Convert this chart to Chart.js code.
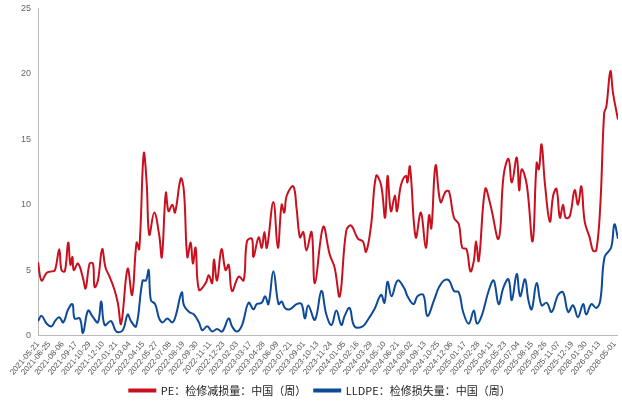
<!DOCTYPE html>
<html><head><meta charset="utf-8">
<script src="https://cdn.jsdelivr.net/npm/chart.js@4/dist/chart.umd.min.js"></script>
<style>html,body{margin:0;background:#fff}#wrap{width:622px;height:408px}</style>
</head><body><div id="wrap"><canvas id="c"></canvas></div>
<script>
const startDate = '2021-05-21';
const tickDates = ['2021-05-21','2021-06-25','2021-08-06','2021-09-17','2021-10-29','2021-12-10','2022-01-21','2022-03-04','2022-04-15','2022-05-27','2022-07-08','2022-08-19','2022-09-30','2022-11-11','2022-12-23','2023-02-03','2023-03-17','2023-04-28','2023-06-09','2023-07-21','2023-09-01','2023-10-13','2023-11-24','2024-01-05','2024-02-16','2024-03-29','2024-05-10','2024-06-21','2024-08-02','2024-09-13','2024-10-25','2024-12-06','2025-01-17','2025-02-28','2025-04-11','2025-05-23','2025-07-04','2025-08-15','2025-09-26','2025-11-07','2025-12-19','2026-01-30','2026-03-13','2026-05-01'];

// weeks since start, values
const peWeeks = [0,1.6,3.9,6.1,7.6,9.5,10.5,12,13.5,14.5,15.4,16,17.9,20.1,21.3,23.1,24.6,25.3,26.8,28.7,30.2,32,34.2,35.7,37.2,40.1,42.1,44.1,45.3,47.3,48.6,49.8,52,54.2,55.4,57.2,58.4,60.1,61.3,63.9,65.3,66.8,68.3,69.3,70.5,72,75,76.4,77.9,78.7,80.1,82.1,83.9,85.3,86.8,89.8,92,93.5,95.7,96.4,98.7,100.1,101.3,102.4,105.3,107.3,109,110.2,111.3,114.2,115.7,117.2,118.7,120.1,122.4,
  123.9,127.6,130.5,132.7,135,137.9,140.1,143.1,145.3,146.8,149,151.3,153.5,155.3,156.4,157.9,159.7,160.6,162.4,164.6,165.3,166.4,169,171.3,173.5,175,176,177.9,180.1,182.4,183.9,186.1,188.3,189.8,191.7,193.5,195,196,197.2,200.1,202.4,206.1,208.3,210.5,212,214.2,215.3,216.4,218.7,221.3,223.1,224.1,225.3,226.8,229,230.5,232,233.5,234.9,236.1,237.9,240.1,241.6,243.1,244.6,246.8,248.3,249.8,251.6,253.3,254.3,256.1,257.3,259.5];
const peValues = [5.6,4.2,4.8,4.9,5.0,6.6,5.0,4.9,7.1,5.4,6.0,5.0,5.5,4.4,3.6,5.5,5.5,3.7,4.2,6.6,5.2,4.5,3.5,2.5,0.9,5.1,3.1,7.1,6.6,13.9,11.7,7.7,9.4,7.7,6.0,10.9,9.5,10.0,9.4,12.0,11.0,6.0,7.1,5.5,6.7,3.5,4.0,4.6,4.0,5.8,4.2,6.6,5.0,5.4,3.4,4.5,4.2,7.2,7.4,6.0,7.5,6.7,7.9,6.7,10.2,6.7,10.0,9.4,10.7,11.4,9.7,7.5,7.9,6.5,7.9,
  4.0,8.3,6.2,5.2,3.0,8.0,8.4,7.4,7.2,6.4,8.4,12.2,11.5,9.0,12.2,9.5,10.7,9.5,11.5,12.2,11.7,12.9,7.5,9.4,6.7,9.2,8.2,13.0,10.2,11.0,11.0,9.0,8.5,6.7,6.6,4.9,5.7,7.2,5.7,11.2,10.0,7.4,12.2,13.5,11.7,13.6,11.1,12.7,11.5,7.2,13.2,12.7,14.6,11.6,8.7,10.7,11.2,9.0,10.0,9.0,9.1,11.1,10.0,11.4,8.7,7.5,6.5,6.5,10.0,17.0,17.5,20.2,18.5,16.5];

const lldpeWeeks = [0,1.6,3.9,6.1,7.6,9.5,11.3,13.5,15.4,16.4,18.7,20.1,22.4,24.6,26.8,28.3,29.8,32.7,35,37.9,40.1,41.6,43.9,46.8,48.3,49.5,50.5,52.4,54.2,55.7,57.9,60.1,61.6,64.3,65.3,67.6,69.8,72,73.5,75.7,77.9,80.1,82.4,85.3,86.8,89,91.3,94.2,96.4,97.9,100.1,101.6,103.1,105.3,107.6,109,110.5,112.7,115.7,117.9,119.4,
  120.9,123.9,126.8,129,131.3,133.5,135.7,137.2,139.4,141.6,145.3,147.6,150.5,153.5,155,156.4,158.2,160.9,163.9,165.3,168,169.8,172.4,174.2,177.2,179.4,181.6,183.9,186.1,188.3,190.2,192.7,195,196.4,198.7,201.6,203.9,206.1,208.3,210.5,212,214.2,215.7,217.9,219.4,220.9,223.1,225.3,227.6,229.8,232.7,234.9,237.2,239.4,241.6,243.9,245.3,247.6,249.8,251.6,253.5,256.4,257.9,259.5];
const lldpeValues = [1.1,1.5,0.9,0.7,1.1,1.4,1.0,2.0,2.4,1.3,1.3,0.2,1.9,1.4,1.0,2.6,0.8,1.1,0.3,0.4,1.6,1.1,0.7,4.2,4.2,5.0,2.7,2.4,1.3,1.0,1.3,1.0,1.5,3.3,2.3,1.8,1.6,1.0,0.4,0.7,0.3,0.5,0.3,1.3,0.7,0.3,0.8,2.5,2.0,2.4,2.5,3.0,2.4,4.9,2.4,2.6,2.1,2.0,2.4,2.4,1.3,
  2.3,1.2,3.4,1.6,0.8,1.9,0.8,1.5,2.1,0.7,0.7,1.2,2.0,3.1,2.5,4.1,3.0,4.2,3.6,3.0,2.4,3.0,3.1,1.5,2.7,3.7,4.2,4.2,3.4,3.3,1.8,0.9,1.9,0.9,1.6,3.4,4.2,2.4,3.7,4.3,2.7,4.7,3.0,4.3,2.7,2.0,4.0,2.3,2.5,1.8,3.1,3.3,1.8,2.3,1.4,2.4,1.6,2.4,2.1,2.7,6.0,6.7,8.5,7.4];

const DAY = 86400000;
const t0 = Date.parse(startDate);
const tickWeeks = tickDates.map(d => (Date.parse(d) - t0) / DAY / 7);

const toPts = (w, v) => w.map((x, i) => ({ x: x, y: v[i] }));

new Chart(document.getElementById('c'), {
  type: 'line',
  data: {
    datasets: [
      { label: 'PE：检修减损量：中国（周）', data: toPts(peWeeks, peValues), borderColor: '#c8101e', backgroundColor: '#c8101e', borderWidth: 2, pointRadius: 0, tension: 0.4 },
      { label: 'LLDPE：检修损失量：中国（周）', data: toPts(lldpeWeeks, lldpeValues), borderColor: '#0e4a98', backgroundColor: '#0e4a98', borderWidth: 2, pointRadius: 0, tension: 0.4 }
    ]
  },
  options: {
    responsive: true, maintainAspectRatio: false, animation: false,
    layout: { padding: { top: 0, right: 0, left: 18, bottom: 2 } },
    plugins: {
      legend: { position: 'bottom', labels: { boxWidth: 26, boxHeight: 2, font: { size: 11, family: 'Noto Sans CJK SC' }, color: '#222', padding: 8 } },
      tooltip: { enabled: false }
    },
    scales: {
      x: {
        type: 'linear', min: 0, max: 259.5,
        afterBuildTicks: axis => { axis.ticks = tickWeeks.map(v => ({ value: v })); },
        ticks: { autoSkip: false, maxRotation: 50, minRotation: 50, font: { size: 8 }, color: '#555', padding: 0,
          callback: v => { const i = tickWeeks.indexOf(v); return i >= 0 ? tickDates[i] : ''; } },
        grid: { display: false, drawTicks: true, tickLength: 4 },
        border: { color: '#bbb' }
      },
      y: {
        min: 0, max: 25,
        ticks: { stepSize: 5, font: { size: 9 }, color: '#666' },
        grid: { display: false, drawTicks: true, tickLength: 4 },
        border: { color: '#bbb' }
      }
    }
  }
});
</script></body></html>
